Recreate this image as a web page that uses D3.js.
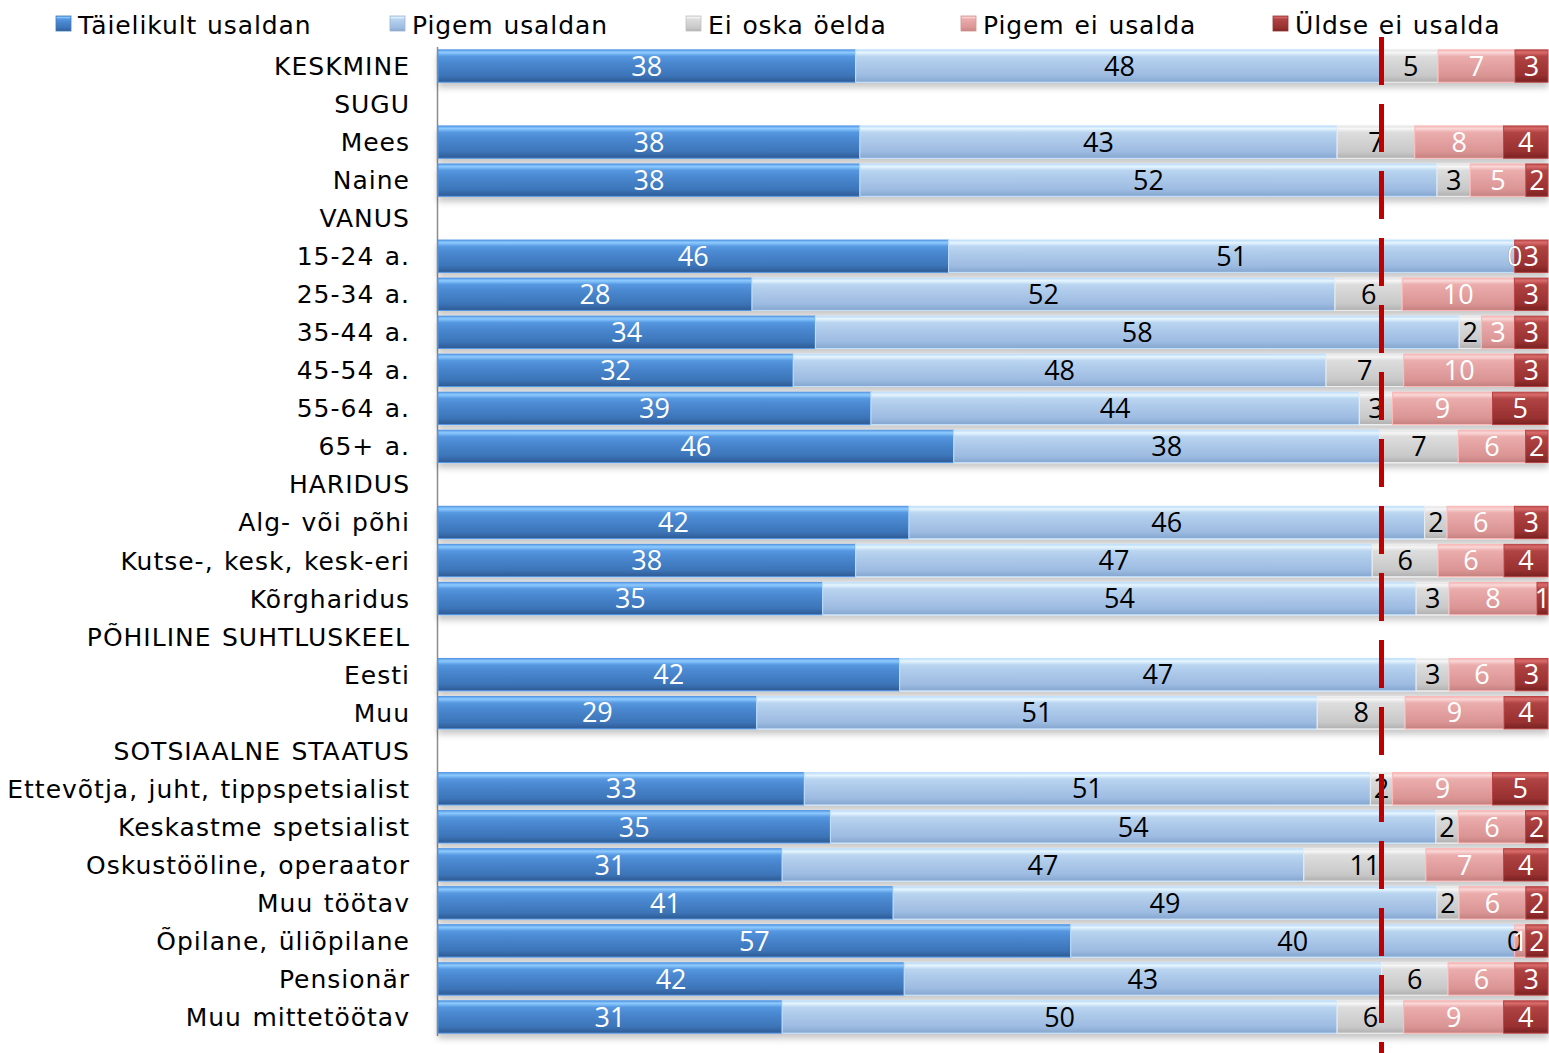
<!DOCTYPE html>
<html><head><meta charset="utf-8">
<script src="https://cdn.jsdelivr.net/npm/d3@7"></script>
<style>
html,body{margin:0;padding:0;background:#fff;}
svg{display:block;}
</style></head>
<body>
<svg id="chart" width="1549" height="1053"></svg>
<script>
const seriesNames = ["Täielikult usaldan","Pigem usaldan","Ei oska öelda","Pigem ei usalda","Üldse ei usalda"];
const categories = ["KESKMINE","SUGU","Mees","Naine","VANUS","15-24 a.","25-34 a.","35-44 a.","45-54 a.","55-64 a.","65+ a.","HARIDUS","Alg- või põhi","Kutse-, kesk, kesk-eri","Kõrgharidus","PÕHILINE SUHTLUSKEEL","Eesti","Muu","SOTSIAALNE STAATUS","Ettevõtja, juht, tippspetsialist","Keskastme spetsialist","Oskustööline, operaator","Muu töötav","Õpilane, üliõpilane","Pensionär","Muu mittetöötav"];
// null = header row without bar
const taielikult = [38,null,38,38,null,46,28,34,32,39,46,null,42,38,35,null,42,29,null,33,35,31,41,57,42,31];
const pigemUsaldan = [48,null,43,52,null,51,52,58,48,44,38,null,46,47,54,null,47,51,null,51,54,47,49,40,43,50];
const eiOska = [5,null,7,3,null,0,6,2,7,3,7,null,2,6,3,null,3,8,null,2,2,11,2,0,6,6];
const pigemEi = [7,null,8,5,null,0,10,3,10,9,6,null,6,6,8,null,6,9,null,9,6,7,6,1,6,9];
const uldseEi = [3,null,4,2,null,3,3,3,3,5,2,null,3,4,1,null,3,4,null,5,2,4,2,2,3,4];
const referenceValue = 85;

const seriesValues = [taielikult, pigemUsaldan, eiOska, pigemEi, uldseEi];
const colors = [
  {stops:[["0%","#5e9fe6"],["8%","#8ccaff"],["20%","#5597e0"],["40%","#4a88d0"],["80%","#3c74b8"],["100%","#2e5a92"]], text:"#ffffff"},
  {stops:[["0%","#bcd8f3"],["8%","#e6f6ff"],["20%","#bad5f0"],["40%","#afcbeb"],["80%","#9dbbe1"],["100%","#85a6cf"]], text:"#000000"},
  {stops:[["0%","#dedede"],["8%","#f7f7f7"],["20%","#dddddd"],["40%","#d6d6d6"],["80%","#c8c8c8"],["100%","#b0b0b0"]], text:"#000000"},
  {stops:[["0%","#ecb4b4"],["8%","#fbd8d8"],["20%","#ebadad"],["40%","#e6a4a4"],["80%","#da9494"],["100%","#c48080"]], text:"#ffffff"},
  {stops:[["0%","#bd4f4f"],["8%","#d96b6b"],["20%","#b04444"],["40%","#a83c3c"],["80%","#983030"],["100%","#782222"]], text:"#ffffff"}
];

const svg = d3.select("#chart");
const defs = svg.append("defs");
colors.forEach((c,i)=>{
  const g = defs.append("linearGradient").attr("id","g"+i).attr("x1",0).attr("x2",0).attr("y1",0).attr("y2",1);
  c.stops.forEach(s=>g.append("stop").attr("offset",s[0]).attr("stop-color",s[1]));
});
const f = defs.append("filter").attr("id","sh").attr("x","-5%").attr("y","-30%").attr("width","110%").attr("height","180%");
f.append("feDropShadow").attr("dx",0).attr("dy",5).attr("stdDeviation",3).attr("flood-color","#000").attr("flood-opacity",0.22);

const x = d3.scaleLinear().domain([0,100]).range([438,1548]);
const y = d3.scaleBand().domain(categories).range([47,1036]).paddingInner(0.15).paddingOuter(0.075);

const numFont = "'Open Sans', sans-serif";
const labFont = "'DejaVu Sans', Verdana, sans-serif";

const rows = categories.map((c,i)=>{
  if (taielikult[i]===null) return {cat:c, segs:[]};
  const vals = seriesValues.map(s=>s[i]);
  const tot = d3.sum(vals);
  let acc = 0;
  const segs = vals.map((v,k)=>{const s={k, v, x0:acc/tot*100, x1:(acc+v)/tot*100}; acc+=v; return s;});
  return {cat:c, segs};
});

// axis line
svg.append("line").attr("x1",437.5).attr("x2",437.5).attr("y1",y.range()[0]).attr("y2",y.range()[1]).attr("stroke","#8c8c8c").attr("stroke-width",1.5);

const barG = svg.append("g");
rows.forEach(r=>{
  if (!r.segs.length) return;
  const g = barG.append("g").attr("filter","url(#sh)");
  g.selectAll("rect").data(r.segs).join("rect")
    .attr("x",d=>x(d.x0)).attr("width",d=>Math.max(0,x(d.x1)-x(d.x0)))
    .attr("y",y(r.cat)).attr("height",y.bandwidth())
    .attr("fill",d=>"url(#g"+d.k+")")
    .attr("stroke",d=>d3.color(colors[d.k].stops[3][1]).brighter(0.3)).attr("stroke-width",1);
});

// labels
rows.forEach(r=>{
  if (!r.segs.length) return;
  svg.append("g").selectAll("text").data(r.segs).join("text")
    .attr("x",d=>x((d.x0+d.x1)/2)).attr("y",y(r.cat)+y.bandwidth()/2)
    .attr("dy","0.36em").attr("text-anchor","middle")
    .attr("font-family",numFont).attr("font-size",27)
    .attr("fill",d=>colors[d.k].text)
    .text(d=>d.v);
});

// reference line
svg.append("line").attr("x1",x(referenceValue)).attr("x2",x(referenceValue)).attr("y1",37).attr("y2",1053)
  .attr("stroke","#c00000").attr("stroke-width",5).attr("stroke-dasharray","48 19");

// category labels
svg.append("g").selectAll("text").data(categories).join("text")
  .attr("x",410).attr("y",d=>y(d)+y.bandwidth()/2).attr("dy","0.36em")
  .attr("text-anchor","end").attr("font-family",labFont).attr("font-size",25)
  .attr("letter-spacing","1px").attr("word-spacing","1.5px").attr("fill","#000")
  .text(d=>d);

// legend
const legX = [56,390,686,961,1273];
const leg = svg.append("g");
seriesNames.forEach((n,i)=>{
  leg.append("rect").attr("x",legX[i]).attr("y",16).attr("width",15).attr("height",15).attr("fill","url(#g"+i+")").attr("stroke",d3.color(colors[i].stops[3][1]).darker(0.3)).attr("stroke-width",0.8);
  leg.append("text").attr("x",legX[i]+22).attr("y",25).attr("dy","0.36em").attr("font-family",labFont).attr("font-size",25)
    .attr("letter-spacing","0.9px").attr("word-spacing","1px").text(n);
});
</script>
</body></html>
